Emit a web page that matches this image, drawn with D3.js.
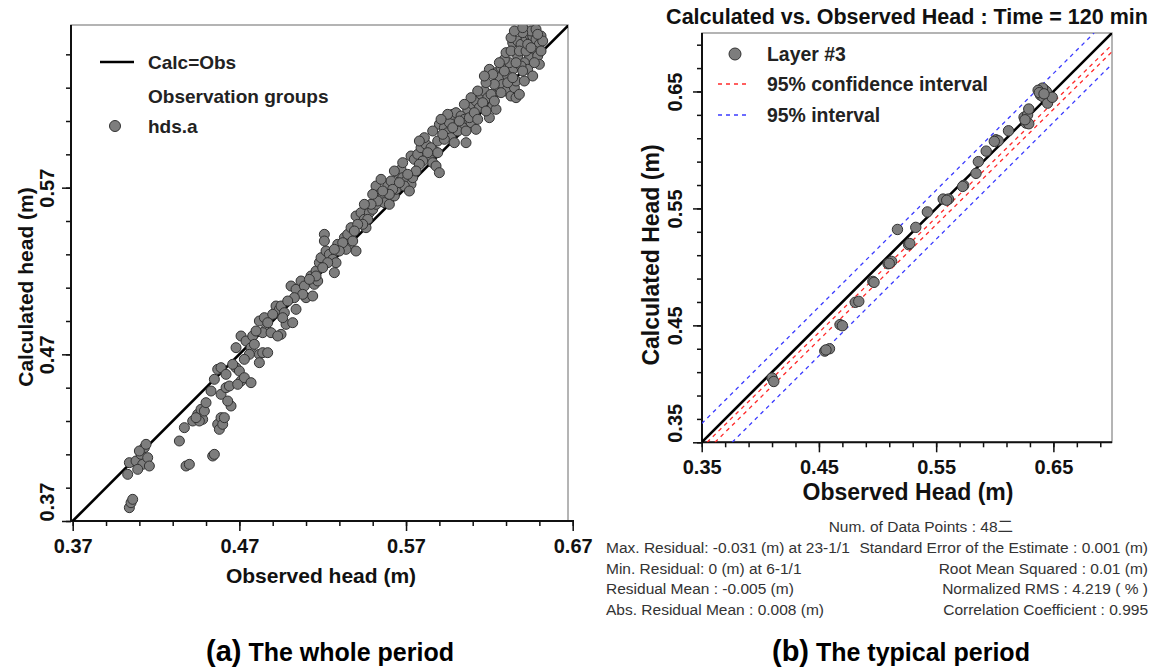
<!DOCTYPE html>
<html>
<head>
<meta charset="utf-8">
<script src="https://cdn.jsdelivr.net/npm/d3@7"></script>
<style>
  body { margin: 0; background: #fff; }
  svg text { font-family: "Liberation Sans", Arial, "Noto Sans CJK SC", sans-serif; }
  .caption { font-family: "Liberation Sans Narrow", "Arial Narrow", "Liberation Sans", sans-serif !important; }
</style>
</head>
<body>
<div id="chart"></div>
<script>
// (a) whole period : [observed, calculated] head (m)
var wholePoints = [
  [0.404,0.378],[0.405,0.381],[0.406,0.383],[0.403,0.398],[0.404,0.405],
  [0.408,0.406],[0.411,0.410],[0.413,0.414],[0.412,0.404],[0.415,0.408],[0.416,0.403],[0.410,0.412],[0.414,0.416],[0.409,0.401],
  [0.434,0.418],[0.437,0.426],[0.438,0.403],[0.440,0.404],
  [0.442,0.430],[0.445,0.434],[0.447,0.437],[0.448,0.431],[0.446,0.430],[0.449,0.436],[0.444,0.432],[0.450,0.441],
  [0.454,0.409],[0.455,0.410],
  [0.457,0.428],[0.458,0.425],[0.459,0.432],[0.460,0.428],[0.461,0.432],
  [0.453,0.448],[0.455,0.455],[0.457,0.461],[0.459,0.462],
  [0.459,0.446],[0.462,0.450],[0.464,0.451],[0.465,0.439],[0.463,0.442],
  [0.468,0.462],[0.470,0.460],[0.471,0.454],[0.469,0.452],[0.473,0.456],[0.477,0.453],
  [0.468,0.474],[0.471,0.481],[0.474,0.478],[0.477,0.474],[0.478,0.481],[0.479,0.476],
  [0.482,0.470],[0.484,0.471],[0.487,0.471],[0.482,0.465],
  [0.482,0.490],[0.485,0.492],[0.486,0.485],[0.484,0.483],[0.489,0.483],
  [0.492,0.499],[0.494,0.497],[0.495,0.499],[0.497,0.495],[0.498,0.488],[0.502,0.489],[0.504,0.497],[0.495,0.482],[0.493,0.481],
  [0.501,0.511],[0.504,0.509],[0.507,0.514],[0.509,0.511],[0.510,0.504],[0.514,0.505],[0.515,0.512],[0.513,0.517],[0.516,0.520],[0.517,0.514],
  [0.518,0.525],[0.519,0.528],[0.522,0.532],[0.524,0.530],[0.526,0.527],[0.528,0.525],[0.521,0.542],[0.521,0.538],[0.527,0.519],
  [0.529,0.536],[0.533,0.540],[0.535,0.542],[0.536,0.536],[0.538,0.538],[0.540,0.532],[0.537,0.546],[0.534,0.533],
  [0.540,0.553],[0.543,0.555],[0.545,0.551],[0.546,0.546],[0.548,0.555],[0.550,0.557],[0.552,0.560],
  [0.552,0.571],[0.554,0.566],[0.556,0.564],[0.557,0.561],[0.558,0.568],[0.559,0.571],[0.561,0.574],[0.560,0.560],[0.563,0.565],[0.564,0.569],
  [0.565,0.579],[0.567,0.581],[0.568,0.576],[0.570,0.574],[0.573,0.572],[0.574,0.576],[0.569,0.571],[0.572,0.568],
  [0.573,0.589],[0.575,0.587],[0.577,0.590],[0.579,0.594],[0.582,0.596],[0.584,0.589],[0.586,0.585],[0.588,0.583],[0.590,0.579],[0.587,0.592],[0.585,0.594],[0.589,0.598],
  [0.590,0.608],[0.593,0.606],[0.595,0.603],[0.597,0.600],[0.599,0.597],[0.593,0.599],[0.596,0.609],
  [0.598,0.614],[0.600,0.615],[0.603,0.613],[0.605,0.611],[0.606,0.597],[0.607,0.617],[0.609,0.609],[0.612,0.605],[0.610,0.620],[0.612,0.622],
  [0.615,0.626],[0.617,0.628],[0.619,0.624],[0.622,0.619],[0.620,0.612],[0.624,0.617],[0.625,0.628],[0.626,0.630],
  [0.620,0.641],[0.624,0.639],[0.626,0.636],[0.628,0.632],[0.630,0.628],[0.633,0.625],[0.635,0.630],[0.636,0.634],[0.634,0.641],[0.632,0.645],[0.629,0.647],[0.630,0.651],
  [0.634,0.657],[0.637,0.658],[0.639,0.656],[0.642,0.660],[0.644,0.662],[0.646,0.661],[0.648,0.659],[0.650,0.656],[0.647,0.652],[0.644,0.648],
  [0.641,0.645],[0.643,0.641],[0.646,0.637],[0.641,0.634],[0.637,0.649],[0.639,0.643],[0.649,0.649],[0.650,0.644],[0.636,0.624],[0.638,0.626],
  [0.645,0.664],[0.648,0.665],[0.640,0.663],[0.651,0.661],[0.652,0.658],[0.633,0.652],[0.631,0.637],[0.627,0.642],[0.623,0.632],[0.618,0.633],
  [0.614,0.618],[0.608,0.612],[0.604,0.606],[0.601,0.604],[0.598,0.606],[0.592,0.602],[0.589,0.591],[0.583,0.591],[0.580,0.586],[0.578,0.584],
  [0.576,0.580],[0.571,0.578],[0.566,0.573],[0.562,0.569],[0.560,0.566],[0.556,0.568],[0.553,0.562],[0.549,0.560],[0.547,0.551],[0.544,0.548],
  [0.541,0.548],[0.539,0.544],[0.532,0.537],[0.530,0.532],[0.527,0.533],[0.523,0.525],[0.520,0.522],[0.516,0.517],[0.512,0.515],[0.508,0.506],
  [0.503,0.504],[0.499,0.502],[0.496,0.492],[0.490,0.494],[0.487,0.489],[0.480,0.484],[0.476,0.470],[0.473,0.467],[0.466,0.464],[0.462,0.458],
  [0.602,0.610],[0.606,0.604],[0.611,0.615],[0.613,0.611],[0.616,0.621],[0.618,0.616],[0.621,0.626],[0.623,0.622],[0.627,0.627],[0.629,0.640],
  [0.631,0.633],[0.634,0.636],[0.636,0.645],[0.638,0.652],[0.640,0.640],[0.642,0.652],[0.643,0.656],[0.645,0.654],[0.647,0.645],[0.649,0.662],
  [0.651,0.652],[0.633,0.660],[0.635,0.664],[0.640,0.666],[0.626,0.645],[0.622,0.638],[0.617,0.637],[0.613,0.628],[0.609,0.624],[0.605,0.620],
  [0.595,0.614],[0.591,0.611],[0.586,0.604],[0.581,0.600],[0.578,0.598],[0.568,0.585],[0.563,0.580],[0.555,0.575],[0.550,0.566],[0.545,0.560]
];

// (b) typical period, layer #3 : [observed, calculated] head (m)
var typicalPoints = [
  [0.410,0.405],[0.4115,0.402],[0.455,0.428],[0.459,0.430],[0.456,0.429],
  [0.468,0.4506],[0.470,0.4497],[0.481,0.4697],[0.484,0.4705],[0.496,0.4876],[0.497,0.4868],
  [0.509,0.5027],[0.512,0.5047],[0.510,0.503],[0.517,0.532],[0.5265,0.519],[0.5275,0.520],
  [0.5326,0.5338],[0.5425,0.547],[0.556,0.558],[0.5605,0.558],[0.559,0.557],
  [0.5735,0.5697],[0.5726,0.5688],[0.584,0.580],[0.586,0.590],[0.5927,0.599],
  [0.601,0.6087],[0.603,0.6078],[0.5996,0.6073],[0.6117,0.6164],
  [0.625,0.628],[0.628,0.630],[0.6267,0.623],[0.629,0.6224],[0.629,0.635],[0.6258,0.6258],
  [0.639,0.647],[0.641,0.6457],[0.6396,0.652],[0.6423,0.6514],[0.644,0.650],[0.6408,0.6529],
  [0.645,0.640],[0.649,0.645],[0.637,0.651],[0.638,0.649],[0.642,0.648]
];

// reference lines of panel (b), [observed, calculated] end points
var calcEqualsObs = [[0.35,0.35],[0.70,0.70]];
var confUpper = [[0.3546,0.35],[0.70,0.690]];
var confLower = [[0.3613,0.35],[0.70,0.684]];
var predUpper = [[0.35,0.366],[0.6847,0.70]];
var predLower = [[0.376,0.35],[0.70,0.6734]];

var wholeTicks = [0.37, 0.47, 0.57, 0.67];
var typicalTicks = [0.35, 0.45, 0.55, 0.65];

var statsLeft = [
  "Max. Residual: -0.031 (m) at 23-1/1",
  "Min. Residual: 0 (m) at 6-1/1",
  "Residual Mean : -0.005 (m)",
  "Abs. Residual Mean : 0.008 (m)"
];
var statsRight = [
  "Standard Error of the Estimate : 0.001 (m)",
  "Root Mean Squared : 0.01 (m)",
  "Normalized RMS : 4.219 ( % )",
  "Correlation Coefficient : 0.995"
];
var statsCount = "Num. of Data Points : 48\u4e8c";

var svg = d3.select("#chart").append("svg")
  .attr("width", 1156)
  .attr("height", 671);

function stepTicks(start, stop) {
  // minor ticks every 0.02
  var n = Math.round((stop - start) / 0.02);
  return d3.range(n + 1).map(function(i){ return +(start + 0.02 * i).toFixed(2); });
}

function drawPanel(cfg) {
  var g = svg.append("g");
  var x = d3.scaleLinear().domain(cfg.xDomain).range(cfg.xRange);
  var y = d3.scaleLinear().domain(cfg.yDomain).range(cfg.yRange);
  var f = cfg.frame;

  g.append("clipPath").attr("id", cfg.id + "-clip")
    .append("rect").attr("x", f.left).attr("y", f.top)
    .attr("width", f.right - f.left).attr("height", f.bottom - f.top);

  // gray frame
  g.append("rect")
    .attr("x", f.left).attr("y", f.top)
    .attr("width", f.right - f.left).attr("height", f.bottom - f.top)
    .attr("fill", "none").attr("stroke", "#9c9c9c").attr("stroke-width", 1.5);

  // minor ticks
  g.append("g").attr("transform", "translate(0," + f.bottom + ")")
    .call(d3.axisBottom(x).tickValues(cfg.xMinor).tickSize(5).tickSizeOuter(0).tickFormat(""))
    .call(function(a){ a.select(".domain").remove(); });
  g.append("g").attr("transform", "translate(" + f.left + ",0)")
    .call(d3.axisLeft(y).tickValues(cfg.yMinor).tickSize(5).tickSizeOuter(0).tickFormat(""))
    .call(function(a){ a.select(".domain").remove(); });

  // major ticks + labels
  var xa = g.append("g").attr("transform", "translate(0," + f.bottom + ")")
    .call(d3.axisBottom(x).tickValues(cfg.xTicks).tickSize(10).tickSizeOuter(0).tickFormat(d3.format(".2f")));
  xa.select(".domain").remove();
  xa.selectAll("text")
    .attr("y", 32).attr("dy", null)
    .attr("fill", "#111").style("font-size", "20px").style("font-weight", "bold");

  var ya = g.append("g").attr("transform", "translate(" + f.left + ",0)")
    .call(d3.axisLeft(y).tickValues(cfg.yTicks).tickSize(9).tickSizeOuter(0).tickFormat(d3.format(".2f")));
  ya.select(".domain").remove();
  ya.selectAll("text")
    .attr("transform", "rotate(-90)")
    .attr("x", 0).attr("y", cfg.yLabelOffset).attr("dy", null)
    .attr("text-anchor", function(d, i){ return i === 0 ? "start" : "middle"; })
    .attr("fill", "#111").style("font-size", "20px").style("font-weight", "bold");

  g.selectAll(".tick line").attr("stroke", "#111").attr("stroke-width", 1.5);

  // black axis lines
  g.append("line").attr("x1", f.left).attr("x2", cfg.xAxisEnd)
    .attr("y1", f.bottom).attr("y2", f.bottom)
    .attr("stroke", "#111").attr("stroke-width", 2);
  g.append("line").attr("x1", f.left).attr("x2", f.left)
    .attr("y1", f.top).attr("y2", f.bottom)
    .attr("stroke", "#111").attr("stroke-width", 2);

  var plot = g.append("g").attr("clip-path", "url(#" + cfg.id + "-clip)");
  var line = d3.line().x(function(d){ return x(d[0]); }).y(function(d){ return y(d[1]); });

  // dashed interval lines
  (cfg.dashed || []).forEach(function(s){
    plot.append("path").datum(s.data)
      .attr("d", line).attr("fill", "none")
      .attr("stroke", s.color).attr("stroke-width", 1.3)
      .attr("stroke-dasharray", "4,4");
  });

  plot.append("path").datum(cfg.oneToOne)
    .attr("d", line).attr("fill", "none")
    .attr("stroke", "#000").attr("stroke-width", 2.6);

  plot.selectAll("circle.pt").data(cfg.points).enter().append("circle")
    .attr("class", "pt")
    .attr("cx", function(d){ return x(d[0]); })
    .attr("cy", function(d){ return y(d[1]); })
    .attr("r", cfg.r)
    .attr("fill", "#7d7d7d")
    .attr("stroke", "#333").attr("stroke-width", 1);

  // axis titles
  g.append("text")
    .attr("x", cfg.xTitle[0]).attr("y", cfg.xTitle[1])
    .attr("text-anchor", "middle")
    .style("font-size", cfg.titleSize + "px").style("font-weight", "bold")
    .attr("fill", "#111")
    .text(cfg.xLabel);
  g.append("text")
    .attr("transform", "translate(" + cfg.yTitle[0] + "," + cfg.yTitle[1] + ") rotate(-90)")
    .attr("text-anchor", "middle")
    .style("font-size", cfg.titleSize + "px").style("font-weight", "bold")
    .attr("fill", "#111")
    .text(cfg.yLabel);

  return {g: g, x: x, y: y};
}

// ---------- (a) the whole period ----------
var pa = drawPanel({
  id: "pa",
  xDomain: [0.37, 0.67], xRange: [72.7, 572.7],
  yDomain: [0.37, 0.67], yRange: [521, 21],
  frame: {left: 71, right: 568, top: 25, bottom: 521},
  xAxisEnd: 574,
  xTicks: wholeTicks, yTicks: wholeTicks.slice(0, 3),
  xMinor: stepTicks(0.37, 0.67), yMinor: stepTicks(0.37, 0.65),
  yLabelOffset: -17.5,
  oneToOne: [[0.37,0.37],[0.67,0.67]],
  points: wholePoints, r: 5,
  xLabel: "Observed head (m)", yLabel: "Calculated head (m)",
  xTitle: [321, 583], yTitle: [33, 287], titleSize: 21
});

// legend (a)
var la = pa.g.append("g").style("font-size", "19px").style("font-weight", "bold").attr("fill", "#222");
la.append("line").attr("x1", 100).attr("x2", 134).attr("y1", 62).attr("y2", 62)
  .attr("stroke", "#000").attr("stroke-width", 2.6);
la.append("text").attr("x", 148).attr("y", 69).text("Calc=Obs");
la.append("text").attr("x", 148).attr("y", 103).text("Observation groups");
la.append("circle").attr("cx", 115).attr("cy", 126).attr("r", 5.5)
  .attr("fill", "#7d7d7d").attr("stroke", "#333");
la.append("text").attr("x", 148).attr("y", 133).text("hds.a");

// ---------- (b) the typical period ----------
var pb = drawPanel({
  id: "pb",
  xDomain: [0.35, 0.70], xRange: [701.7, 1112],
  yDomain: [0.35, 0.70], yRange: [442.3, 33],
  frame: {left: 702, right: 1112, top: 33, bottom: 442.3},
  xAxisEnd: 1112,
  xTicks: typicalTicks, yTicks: typicalTicks,
  xMinor: stepTicks(0.35, 0.69), yMinor: stepTicks(0.35, 0.69),
  yLabelOffset: -20,
  oneToOne: calcEqualsObs,
  dashed: [
    {data: predUpper, color: "#3b3bff"},
    {data: predLower, color: "#3b3bff"},
    {data: confUpper, color: "#ff2a2a"},
    {data: confLower, color: "#ff2a2a"}
  ],
  points: typicalPoints, r: 5.2,
  xLabel: "Observed Head (m)", yLabel: "Calculated Head (m)",
  xTitle: [908, 500], yTitle: [659, 255], titleSize: 23
});

pb.g.append("text")
  .attr("x", 907).attr("y", 24)
  .attr("text-anchor", "middle")
  .style("font-size", "21.5px").style("font-weight", "bold").attr("fill", "#111")
  .text("Calculated vs. Observed Head : Time = 120 min");

// legend (b)
var lb = pb.g.append("g").style("font-size", "19.4px").style("font-weight", "bold").attr("fill", "#222");
lb.append("circle").attr("cx", 735).attr("cy", 54).attr("r", 6)
  .attr("fill", "#7d7d7d").attr("stroke", "#333");
lb.append("text").attr("x", 767).attr("y", 61).text("Layer #3");
lb.append("line").attr("x1", 718).attr("x2", 749).attr("y1", 84).attr("y2", 84)
  .attr("stroke", "#ff2a2a").attr("stroke-width", 1.3).attr("stroke-dasharray", "4,4");
lb.append("text").attr("x", 767).attr("y", 91).text("95% confidence interval");
lb.append("line").attr("x1", 718).attr("x2", 749).attr("y1", 115).attr("y2", 115)
  .attr("stroke", "#3b3bff").attr("stroke-width", 1.3).attr("stroke-dasharray", "4,4");
lb.append("text").attr("x", 767).attr("y", 122).text("95% interval");

// statistics block
var st = svg.append("g").style("font-size", "15.5px").attr("fill", "#333");
st.append("text").attr("x", 1013).attr("y", 532).attr("text-anchor", "end").text(statsCount);
st.selectAll("text.sl").data(statsLeft).enter().append("text")
  .attr("class", "sl").attr("x", 606)
  .attr("y", function(d, i){ return 553 + i * 20.5; })
  .text(function(d){ return d; });
st.selectAll("text.sr").data(statsRight).enter().append("text")
  .attr("class", "sr").attr("x", 1148).attr("text-anchor", "end")
  .attr("y", function(d, i){ return 553 + i * 20.5; })
  .text(function(d){ return d; });

// captions
function caption(xPos, tag, label) {
  var t = svg.append("text").attr("class", "caption")
    .attr("x", xPos).attr("y", 661)
    .style("font-weight", "bold").style("font-size", "29px").attr("fill", "#000");
  t.append("tspan").text(tag);
  t.append("tspan").style("font-size", "25px").text(" " + label);
}
caption(206, "(a)", "The whole period");
caption(772, "(b)", "The typical period");
</script>
</body>
</html>
